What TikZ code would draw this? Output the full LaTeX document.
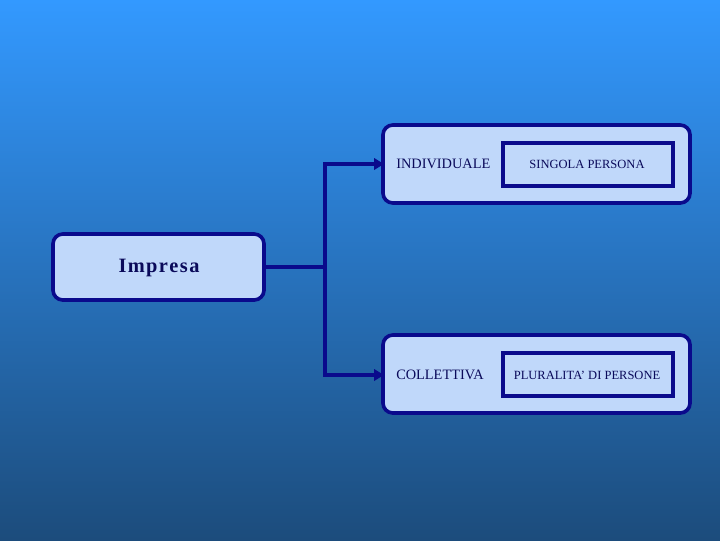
\documentclass[tikz,border=0pt]{standalone}
\usepackage{fontspec}
\setmainfont{Liberation Serif}
\usetikzlibrary{arrows.meta}
\definecolor{bgtop}{RGB}{51,153,255}
\definecolor{bgbot}{RGB}{28,76,124}
\definecolor{navy}{RGB}{10,10,140}
\definecolor{boxfill}{RGB}{192,216,250}
\definecolor{txt}{RGB}{10,10,90}
\begin{document}
\begin{tikzpicture}[x=0.025cm,y=-0.025cm,
  outer/.style={draw=navy,line width=2.6pt,fill=boxfill,rounded corners=7pt},
  inner/.style={draw=navy,line width=2.3pt,fill=boxfill},
  conn/.style={draw=navy,line width=2.4pt},
  tip/.style={-{Triangle[length=7pt,width=8pt]}}]
\shade[top color=bgtop,bottom color=bgbot] (0,0) rectangle (720,540);
\useasboundingbox (0,0) rectangle (720,540);
\path[outer] (53,234) rectangle (264,300);
\node[text=txt,font=\fontsize{14.5}{16}\selectfont\bfseries,inner sep=0] (imp) at (159,268) {I\kern1pt m\kern1pt p\kern1pt r\kern1pt e\kern1pt s\kern1pt a};
\coordinate (impR) at (264,267);
\path[outer] (383,125) rectangle (690,203);
\path[inner] (503,143) rectangle (673,186);
\path[outer] (383,335) rectangle (690,413);
\path[inner] (503,353) rectangle (673,396);
\node[text=txt,font=\fontsize{10.2}{12}\selectfont,anchor=west,inner sep=0] (ind) at (396,164) {INDIVIDUALE};
\node[text=txt,font=\fontsize{8.9}{10}\selectfont,inner sep=0] (sing) at (587,164) {SINGOLA PERSONA};
\node[text=txt,font=\fontsize{10.2}{12}\selectfont,anchor=west,inner sep=0] (col) at (396,375) {COLLETTIVA};
\node[text=txt,font=\fontsize{8.9}{10}\selectfont,inner sep=0] (plur) at (587,375) {PLURALITA’ DI PERSONE};
\coordinate (topIn) at (384,164);
\coordinate (botIn) at (384,375);
\coordinate (jn) at (325,267);
\draw[conn] (impR) -- (jn);
\draw[conn,tip] (jn) |- (topIn);
\draw[conn,tip] (jn) |- (botIn);
\end{tikzpicture}
\end{document}
